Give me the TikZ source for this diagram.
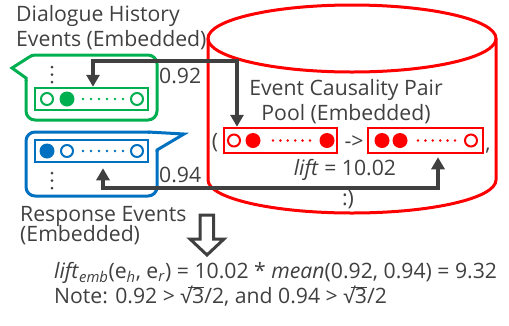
\documentclass[tikz,border=0pt]{standalone}
\usepackage{fontspec}
\setmainfont{Open Sans}
\usetikzlibrary{arrows.meta}
\definecolor{tgray}{HTML}{404040}
\definecolor{agray}{HTML}{404040}
\definecolor{cgreen}{HTML}{00B050}
\definecolor{cblue}{HTML}{0070C0}
\definecolor{cred}{HTML}{FF0000}
\begin{document}
\begin{tikzpicture}[x=1pt,y=-1pt,
  txt/.style={inner sep=0pt, text=tgray, font=\fontsize{21.2}{25}\selectfont},
  conn/.style={draw=agray, line width=3.5pt,
    {Triangle[width=13pt,length=12pt]}-{Triangle[width=13pt,length=12pt]}},
  cyl/.style={draw=cred, line width=3pt},
  callout/.style={line width=3pt, rounded corners=9pt},
  tail/.style={line width=3pt, line join=miter},
  ebox/.style={draw=#1, line width=2.5pt, inner sep=0pt, minimum height=22pt, minimum width=113pt},
  opc/.style={draw=#1, line width=2pt, fill=white},
  flc/.style={fill=#1}]
\useasboundingbox (0,0) rectangle (509,325);

% cylinder
\draw[cyl] (352,38.5) ellipse[x radius=144, y radius=33.5];
\draw[cyl] (208,38.5) -- (208,180) arc[start angle=180, end angle=0, x radius=144, y radius=33] -- (496,38.5);

% texts
\node[txt, anchor=base west] (t1) at (16,21.5) {Dialogue History};
\node[txt, anchor=base west] (t2) at (16,46) {Events (Embedded)};
\node[txt, anchor=base west] (t3) at (20,221.5) {Response Events};
\node[txt, anchor=base west] (t4) at (20,241.5) {(Embedded)};
\node[txt, anchor=base] (t5) at (346,95) {Event Causality Pair};
\node[txt, anchor=base] (t6) at (346,120) {Pool (Embedded)};
\node[txt, anchor=base] (t7) at (345,175) {\textit{lift} = 10.02};
\node[txt, anchor=base] (t8) at (348,205) {:)};
\node[txt, anchor=base] (lp) at (215,148) {(};
\node[txt, anchor=base] (ar) at (354,148) {->};
\node[txt, anchor=base] (cm) at (488,150) {,};
\node[txt, anchor=base west] (w1) at (159,83) {0.92};
\node[txt, anchor=base west] (w2) at (159,182) {0.94};
\node[txt, anchor=base west] (f1) at (54,278) {\textit{lift}\textsubscript{\textit{emb}}(e\textsubscript{\textit{h}}, e\textsubscript{\textit{r}}) = 10.02 * \textit{mean}(0.92, 0.94) = 9.32};
\node[txt, anchor=base west] (f2) at (54,303) {Note: 0.92 > √\llap{\rule[15.5pt]{4pt}{1pt}}\rlap{\rule[15.5pt]{12pt}{1pt}}3/2, and 0.94 > √\llap{\rule[15.5pt]{4pt}{1pt}}\rlap{\rule[15.5pt]{12pt}{1pt}}3/2};

% green callout
\draw[cgreen, callout] (26,55) rectangle (157,120);
\fill[white] (22,57.5) rectangle (30.5,80);
\draw[cgreen, tail] (29.3,57) -- (12,68) -- (26,78) -- (26,81);
% blue callout
\draw[cblue, callout] (26,132) rectangle (157,196);
\fill[white] (150,129) rectangle (160,150);
\draw[cblue, tail] (148,132) -- (184,134) -- (157,150) -- (157,152);

% vertical dots
\foreach \yy in {67,74.5,82} \fill[tgray] (52,\yy) circle[radius=1.5];
\foreach \yy in {173,180.5,188} \fill[tgray] (52,\yy) circle[radius=1.5];

% embedded boxes
\node[ebox=cgreen] (gbox) at (91.5,99) {};
\draw[opc=cgreen] (47,99) circle[radius=6];
\fill[cgreen] (67,99) circle[radius=7.5];
\foreach \i in {0,...,5} \fill[cgreen] (83+\i*8,99) circle[radius=1.4];
\draw[opc=cgreen] (137,99) circle[radius=6];

\node[ebox=cblue] (bbox) at (91.5,151) {};
\fill[cblue] (47,151) circle[radius=7.5];
\draw[opc=cblue] (67,151) circle[radius=6];
\foreach \i in {0,...,5} \fill[cblue] (83+\i*8,151) circle[radius=1.4];
\draw[opc=cblue] (137,151) circle[radius=6];

\node[ebox=cred, minimum height=25pt] (rbox1) at (280.5,140.5) {};
\draw[opc=cred] (234,140.5) circle[radius=6];
\fill[cred] (253,140.5) circle[radius=7.5];
\foreach \i in {0,...,5} \fill[cred] (273+\i*7.4,140.5) circle[radius=1.4];
\fill[cred] (327,140.5) circle[radius=7.5];

\node[ebox=cred, minimum height=25pt, minimum width=115pt] (rbox2) at (425.5,140.5) {};
\fill[cred] (382,140.5) circle[radius=7.5];
\fill[cred] (400,140.5) circle[radius=7.5];
\foreach \i in {0,...,5} \fill[cred] (418+\i*7.4,140.5) circle[radius=1.4];
\draw[opc=cred] (471,140.5) circle[radius=6];

% connectors
\coordinate (ga) at (93,61);
\coordinate (ra) at (237,61);
\draw[conn] (gbox.north -| ga) -- (ga) -- (ra) -- (rbox1.north -| ra);
\coordinate (ba) at (103,188);
\coordinate (bb) at (438,188);
\draw[conn, shorten <=5pt, shorten >=3pt] (bbox.south -| ba) -- (ba) -- (bb) -- (rbox2.south -| bb);

% big hollow arrow
\draw[agray, line width=3pt, fill=white, line join=miter] (200,215) -- (213.5,215) -- (213.5,239) -- (224,239) -- (207,255) -- (190,239) -- (200,239) -- cycle;
\end{tikzpicture}
\end{document}
